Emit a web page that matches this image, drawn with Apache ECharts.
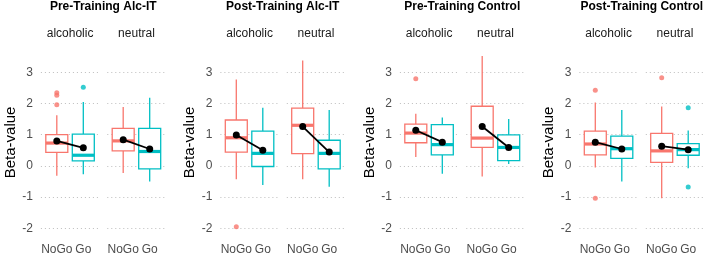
<!DOCTYPE html>
<html>
<head>
<meta charset="utf-8">
<title>Beta-values NoGo / Go</title>
<script src="https://cdn.jsdelivr.net/npm/echarts@6.0.0/dist/echarts.min.js"></script>
<style>
  html, body { margin: 0; padding: 0; background: #fff; }
  #chart { width: 708px; height: 255px; }
</style>
</head>
<body>
<div id="chart"></div>
<script>
const panelTitles = ['Pre-Training Alc-IT', 'Post-Training Alc-IT', 'Pre-Training Control', 'Post-Training Control'];
const stimuli = ['alcoholic', 'neutral'];
const conditions = ['NoGo', 'Go'];
const yTicks = [-2, -1, 0, 1, 2, 3];

// [min, Q1, median, Q3, max], one row per facet: panel1 alcoholic, panel1 neutral, panel2 alcoholic, ...
const noGoBoxes = [
    [-0.32, 0.43, 0.73, 1.00, 1.62],
    [-0.23, 0.48, 0.80, 1.20, 1.89],
    [-0.43, 0.44, 0.90, 1.47, 2.77],
    [-0.43, 0.39, 1.30, 1.85, 3.38],
    [0.28, 0.74, 1.05, 1.34, 1.67],
    [-0.34, 0.59, 0.89, 1.91, 3.52],
    [-0.05, 0.35, 0.70, 1.11, 2.03],
    [-1.04, 0.11, 0.48, 1.04, 1.90]
];
const goBoxes = [
    [-0.27, 0.16, 0.34, 1.02, 2.05],
    [-0.50, -0.10, 0.46, 1.20, 2.18],
    [-0.61, -0.02, 0.40, 1.11, 1.86],
    [-0.67, -0.10, 0.40, 0.82, 1.79],
    [-0.25, 0.35, 0.68, 1.32, 1.55],
    [0.06, 0.17, 0.59, 0.99, 1.50],
    [-0.50, 0.24, 0.55, 0.95, 1.79],
    [-0.08, 0.34, 0.52, 0.71, 1.13]
];
const noGoMeans = [0.80, 0.84, 0.99, 1.26, 1.14, 1.26, 0.76, 0.63];
const goMeans = [0.58, 0.54, 0.50, 0.44, 0.76, 0.59, 0.54, 0.52];
const noGoOutliers = [[2.34, 2.26, 1.96], [], [-1.95], [], [2.79], [], [2.42, -1.04], [2.82]];
const goOutliers = [[2.52], [], [], [], [], [], [], [1.86, -0.68]];

// layout
const firstLeft = 40.9;     // left edge of first facet
const facetStep = 66.4;     // alcoholic -> neutral facet
const panelStride = 179.5;  // panel -> panel
const facetWidth = 58.3;
const yMin = -2.2, yMax = 3.7;
const gridTop = 50.4, gridHeight = 184.1;
const boxWidth = 0.83;      // in x units

const red = '#F8766D', cyan = '#00BFC4';
const font = '"Liberation Sans", Arial, sans-serif';

const chart = echarts.init(document.getElementById('chart'));

function boxRenderer(color) {
    return (params, api) => {
        const x = api.value(0);
        const lo = api.coord([x, api.value(1)]);
        const q1 = api.coord([x, api.value(2)]);
        const med = api.coord([x, api.value(3)]);
        const q3 = api.coord([x, api.value(4)]);
        const hi = api.coord([x, api.value(5)]);
        const half = api.size([boxWidth, 0])[0] / 2;
        const stroke = { stroke: color, lineWidth: 1.3, fill: null };
        return {
            type: 'group',
            children: [
                { type: 'line', shape: { x1: hi[0], y1: hi[1], x2: q3[0], y2: q3[1] }, style: stroke },
                { type: 'line', shape: { x1: q1[0], y1: q1[1], x2: lo[0], y2: lo[1] }, style: stroke },
                { type: 'rect', shape: { x: q3[0] - half, y: q3[1], width: half * 2, height: q1[1] - q3[1] },
                  style: { fill: '#fff', stroke: color, lineWidth: 1.3 } },
                { type: 'line', shape: { x1: med[0] - half, y1: med[1], x2: med[0] + half, y2: med[1] },
                  style: { stroke: color, lineWidth: 3.2 } }
            ]
        };
    };
}

const grids = [], xAxes = [], yAxes = [], series = [], graphics = [];

panelTitles.forEach((title, p) => {
    const panelLeft = firstLeft + p * panelStride;
    graphics.push({
        type: 'text', x: panelLeft + (facetStep + facetWidth) / 2, y: 7,
        style: { text: title, font: 'bold 12px ' + font, fill: '#000', textAlign: 'center', textVerticalAlign: 'middle' }
    });
    stimuli.forEach((stim, s) => {
        const f = p * 2 + s;
        const left = panelLeft + s * facetStep;
        graphics.push({
            type: 'text', x: left + facetWidth / 2, y: 33.5,
            style: { text: stim, font: '12px ' + font, fill: '#1a1a1a', textAlign: 'center', textVerticalAlign: 'middle' }
        });
        grids.push({ left: left, top: gridTop, width: facetWidth, height: gridHeight, outerBoundsMode: 'none' });
        xAxes.push({
            type: 'value', gridIndex: f, min: 0.4, max: 2.6,
            axisLine: { show: false }, axisTick: { show: false }, splitLine: { show: false },
            axisLabel: {
                customValues: [1, 2], formatter: v => conditions[Math.round(v) - 1],
                margin: 9.5, color: '#4d4d4d', fontSize: 12, fontFamily: font
            }
        });
        yAxes.push({
            type: 'value', gridIndex: f, min: yMin, max: yMax,
            axisLine: { show: false },
            axisTick: { show: false, customValues: yTicks },
            axisLabel: { show: s === 0, customValues: yTicks, margin: 8, color: '#4d4d4d', fontSize: 12, fontFamily: font },
            splitLine: { show: true, lineStyle: { color: '#bdbdbd', width: 1, type: [1, 3] } },
            name: s === 0 ? 'Beta-value' : '',
            nameLocation: 'middle', nameGap: 22,
            nameTextStyle: { fontSize: 15, color: '#000', fontFamily: font }
        });
        series.push({
            type: 'custom', xAxisIndex: f, yAxisIndex: f, z: 2,
            renderItem: boxRenderer(red),
            encode: { x: 0, y: [1, 2, 3, 4, 5] },
            data: [[1].concat(noGoBoxes[f])]
        });
        series.push({
            type: 'custom', xAxisIndex: f, yAxisIndex: f, z: 2,
            renderItem: boxRenderer(cyan),
            encode: { x: 0, y: [1, 2, 3, 4, 5] },
            data: [[2].concat(goBoxes[f])]
        });
        series.push({
            type: 'scatter', xAxisIndex: f, yAxisIndex: f, z: 3,
            symbolSize: 5, itemStyle: { color: red },
            data: noGoOutliers[f].map(v => [1, v])
        });
        series.push({
            type: 'scatter', xAxisIndex: f, yAxisIndex: f, z: 3,
            symbolSize: 5, itemStyle: { color: cyan },
            data: goOutliers[f].map(v => [2, v])
        });
        series.push({
            type: 'line', xAxisIndex: f, yAxisIndex: f, z: 4,
            symbol: 'circle', symbolSize: 7,
            itemStyle: { color: '#000' }, lineStyle: { color: '#000', width: 1.8 },
            data: [[1, noGoMeans[f]], [2, goMeans[f]]]
        });
    });
});

chart.setOption({
    animation: false,
    grid: grids,
    xAxis: xAxes,
    yAxis: yAxes,
    graphic: graphics,
    series: series
});
</script>
</body>
</html>
